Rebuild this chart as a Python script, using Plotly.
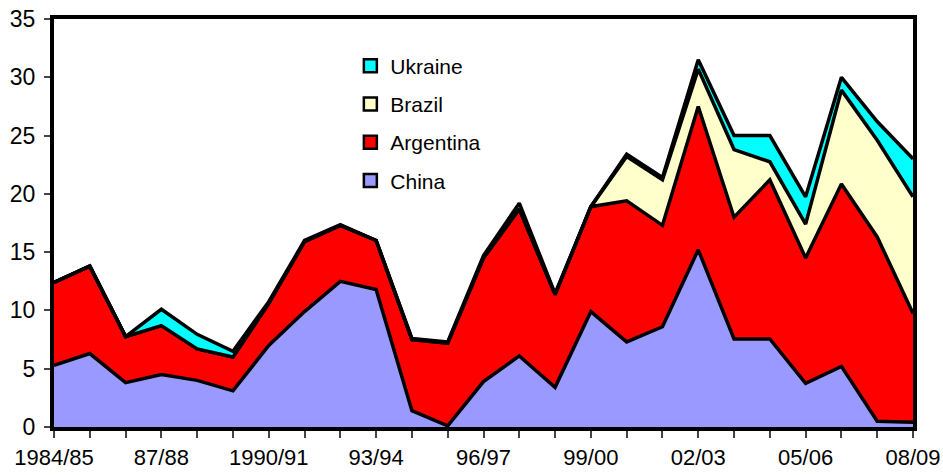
import plotly.graph_objects as go

# Marketing years
seasons = ["1984/85", "85/86", "86/87", "87/88", "88/89", "89/90", "1990/91", "91/92",
           "92/93", "93/94", "94/95", "95/96", "96/97", "97/98", "98/99", "99/00",
           "00/01", "01/02", "02/03", "03/04", "04/05", "05/06", "06/07", "07/08", "08/09"]
labelled = ["1984/85", "87/88", "1990/91", "93/94", "96/97", "99/00", "02/03", "05/06", "08/09"]

china = [5.3, 6.3, 3.8, 4.5, 4.0, 3.1, 7.0, 9.9, 12.5, 11.8, 1.4, 0.1, 3.9, 6.1, 3.4,
         9.9, 7.3, 8.6, 15.2, 7.55, 7.55, 3.75, 5.2, 0.5, 0.4]
argentina = [7.1, 7.5, 3.95, 4.2, 2.7, 2.9, 3.6, 6.0, 4.8, 4.2, 6.1, 7.1, 10.6, 12.6, 7.95,
             9.0, 12.1, 8.7, 12.3, 10.45, 13.65, 10.75, 15.65, 15.8, 9.35]
brazil = [0, 0, 0, 0, 0, 0, 0, 0, 0, 0, 0, 0, 0, 0, 0,
          0, 3.8, 3.9, 3.2, 5.8, 1.55, 2.9, 8.05, 8.3, 10.0]
ukraine = [0, 0, 0, 1.4, 1.25, 0.5, 0.15, 0.1, 0.05, 0, 0.1, 0.1, 0.2, 0.5, 0.1,
           0, 0.2, 0.2, 0.8, 1.2, 2.25, 2.35, 1.1, 1.6, 3.25]

series = [
    ("China", china, "#9999FF"),
    ("Argentina", argentina, "#FF0000"),
    ("Brazil", brazil, "#FFFFCC"),
    ("Ukraine", ukraine, "#00FFFF"),
]

fig = go.Figure()

# Stacked areas
for name, vals, color in series:
    fig.add_trace(go.Scatter(
        x=seasons, y=vals, name=name, stackgroup="one", mode="lines",
        line=dict(color="black", width=3.5), fillcolor=color,
        showlegend=False, hoverinfo="x+y+name",
    ))

# Legend keys drawn as bordered squares
for rank, (name, vals, color) in enumerate(series):
    fig.add_trace(go.Scatter(
        x=[None], y=[None], name=name, mode="markers",
        marker=dict(symbol="square", size=13, color=color,
                    line=dict(color="black", width=2.5)),
        legendgroup=name, legendrank=100 - rank, showlegend=True,
    ))

font = dict(family="Liberation Sans, Arial, sans-serif", color="black")

fig.update_layout(
    width=943, height=475,
    margin=dict(l=54, r=30, t=19, b=48),
    paper_bgcolor="white", plot_bgcolor="white",
    font=dict(**font, size=22),
    legend=dict(
        x=0.345, y=0.935, xanchor="left", yanchor="top",
        font=dict(**font, size=21),
        bgcolor="rgba(0,0,0,0)", traceorder="grouped", tracegroupgap=8,
    ),
    xaxis=dict(
        type="category", categoryorder="array", categoryarray=seasons,
        range=[0, len(seasons) - 1], automargin=False,
        tickmode="array", tickvals=seasons,
        ticktext=[s if s in labelled else "" for s in seasons],
        ticks="outside", ticklen=7, tickwidth=1.5, tickcolor="#444",
        showline=True, linewidth=4, linecolor="black", mirror=True,
        showgrid=False, zeroline=False, ticklabelstandoff=1,
        tickfont=dict(**font, size=22),
    ),
    yaxis=dict(
        range=[0, 35], dtick=5, tick0=0, automargin=False,
        ticks="outside", ticklen=6, tickwidth=1.5, tickcolor="#444",
        showline=True, linewidth=4, linecolor="black", mirror=True,
        showgrid=False, zeroline=False, ticklabelstandoff=4,
        tickfont=dict(**font, size=23),
    ),
)

fig.write_html("out.html")
